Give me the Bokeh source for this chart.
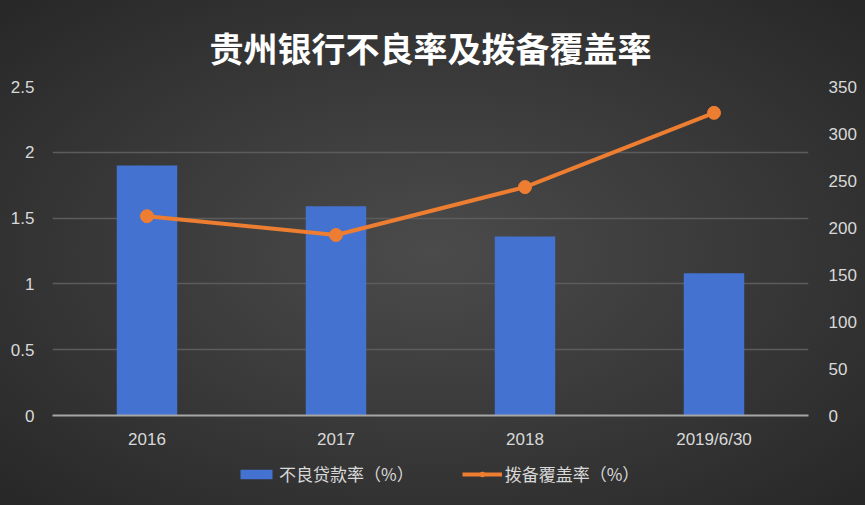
from bokeh.plotting import figure
from bokeh.models import (FactorRange, Range1d, LinearAxis, FixedTicker, NumeralTickFormatter,
                          Legend, LegendItem, ColumnDataSource)
from bokeh.layouts import column
from bokeh.embed import file_html
from bokeh.resources import INLINE

categories = ["2016", "2017", "2018", "2019/6/30"]
npl_ratio = [1.90, 1.59, 1.36, 1.08]          # 不良贷款率 (%)
coverage = [212, 192, 243, 322]              # 拨备覆盖率 (%)
left_ticks = [0, 0.5, 1, 1.5, 2, 2.5]
right_ticks = [0, 50, 100, 150, 200, 250, 300, 350]
series_names = ["不良贷款率（%）", "拨备覆盖率（%）"]

TXT = "#d9d9d9"
CJK = "Noto Sans CJK SC"
NUMF = "Liberation Sans"
BAR = "#4372d0"
ORANGE = "#ED7D31"
PAGE_BG = "radial-gradient(ellipse at 50% 50%, #4b4b4b 0%, #3b3b3b 45%, #272727 100%)"

src = ColumnDataSource(dict(cat=categories, npl=npl_ratio, cov=coverage))

p = figure(x_range=FactorRange(*categories, range_padding=0),
           y_range=Range1d(0, 2.5),
           width=865, height=451, output_backend="svg", toolbar_location=None,
           min_border_left=52, min_border_right=57, min_border_top=86, min_border_bottom=35,
           title="贵州银行不良率及拨备覆盖率")

p.background_fill_alpha = 0
p.border_fill_alpha = 0
p.outline_line_color = None

p.title.align = "center"
p.title.text_color = "#ffffff"
p.title.text_font = CJK
p.title.text_font_size = "34px"
p.title.text_font_style = "bold"
p.title.text_line_height = 0.8
p.title.standoff = 30

p.extra_y_ranges = {"r": Range1d(0, 350)}

p.vbar(x="cat", top="npl", width=0.32, source=src, fill_color=BAR, line_color=None)
p.line(x="cat", y="cov", source=src, y_range_name="r", line_color=ORANGE, line_width=4)
p.scatter(x="cat", y="cov", source=src, y_range_name="r", size=13,
          fill_color=ORANGE, line_color=ORANGE)

# left axis
ya = p.yaxis[0]
ya.ticker = FixedTicker(ticks=left_ticks)
ya.formatter = NumeralTickFormatter(format="0.[0]")
ya.axis_line_color = None
ya.major_tick_line_color = None
ya.minor_tick_line_color = None
ya.major_label_text_color = TXT
ya.major_label_text_font = NUMF
ya.major_label_text_font_size = "17px"
ya.major_label_standoff = 12

# right axis
ra = LinearAxis(y_range_name="r", ticker=FixedTicker(ticks=right_ticks))
ra.axis_line_color = None
ra.major_tick_line_color = None
ra.minor_tick_line_color = None
ra.major_label_text_color = TXT
ra.major_label_text_font = NUMF
ra.major_label_text_font_size = "17px"
ra.major_label_standoff = 14
p.add_layout(ra, "right")

# x axis
xa = p.xaxis[0]
xa.axis_line_color = "#a6a6a6"
xa.axis_line_width = 2
xa.major_tick_line_color = None
xa.minor_tick_line_color = None
xa.major_label_text_color = TXT
xa.major_label_text_font = NUMF
xa.major_label_text_font_size = "17px"
xa.major_label_standoff = 8

p.xgrid.grid_line_color = None
p.ygrid.grid_line_color = "#5c5c5c"
p.ygrid.grid_line_width = 1.5

# legend strip below the chart (its glyph renderers are kept out of view)
lg = figure(x_range=FactorRange(*categories), y_range=Range1d(1000, 1001),
            width=865, height=54, output_backend="svg", toolbar_location=None,
            min_border=0)
lg.axis.visible = False
lg.grid.grid_line_color = None
lg.outline_line_color = None
lg.background_fill_alpha = 0
lg.border_fill_alpha = 0
r_bar = lg.vbar(x="cat", top="npl", width=0.32, source=src, fill_color=BAR, line_color=None)
r_ln = lg.line(x="cat", y="cov", source=src, line_color=ORANGE, line_width=4)
r_pt = lg.scatter(x="cat", y="cov", source=src, size=13, fill_color=ORANGE, line_color=ORANGE)

legend = Legend(items=[LegendItem(label=series_names[0], renderers=[r_bar]),
                       LegendItem(label=series_names[1], renderers=[r_ln, r_pt])],
                orientation="horizontal", location=(184, 19),
                background_fill_alpha=0, border_line_color=None,
                label_text_color=TXT, label_text_font=CJK, label_text_font_size="17px",
                glyph_width=40, glyph_height=12, spacing=48, padding=0, margin=0,
                label_standoff=3)
lg.add_layout(legend, "center")

layout = column(p, lg, spacing=0, styles={"background": PAGE_BG})
open("out.html", "w").write(file_html(layout, INLINE))
